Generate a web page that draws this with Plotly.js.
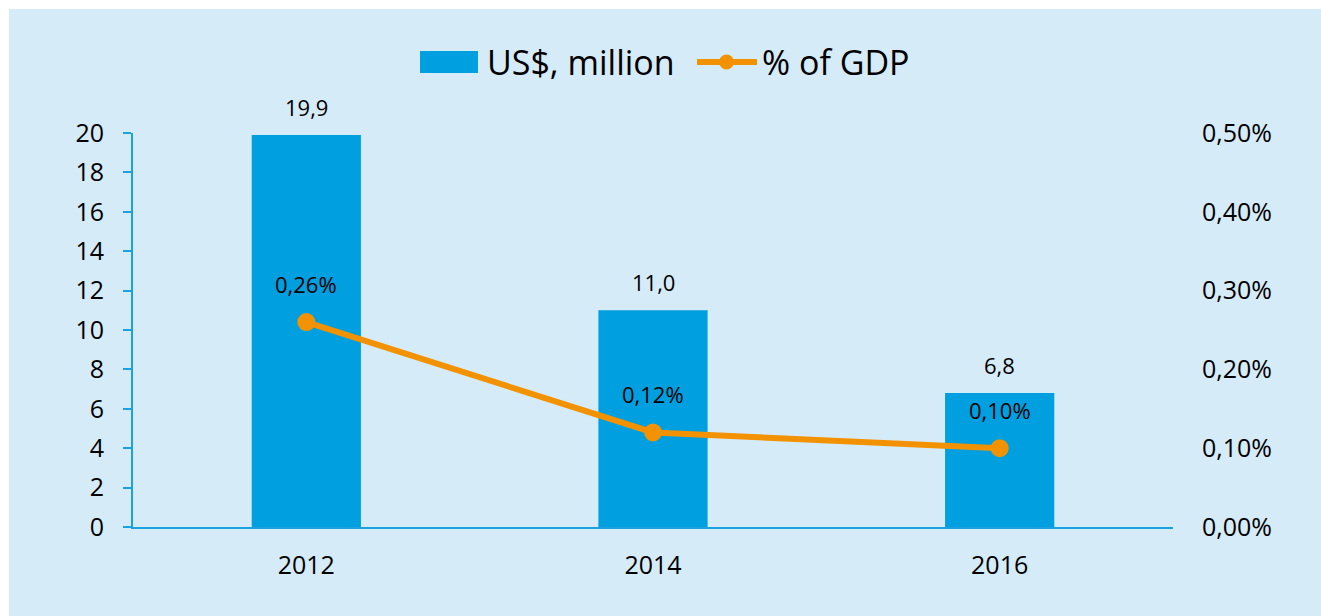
<!DOCTYPE html>
<html>
<head>
<meta charset="utf-8">
<script src="https://cdn.plot.ly/plotly-3.0.1.min.js"></script>
<style>
  html, body { margin: 0; padding: 0; background: #ffffff; }
  #chart { position: absolute; left: 9px; top: 9px; width: 1312px; height: 607px; }
</style>
</head>
<body>
<div id="chart"></div>
<script>
const years = ['2012', '2014', '2016'];
const usdMillion = [19.9, 11.0, 6.8];
const pctOfGdp = [0.0026, 0.0012, 0.0010];
const barName = 'US$, million';
const lineName = '% of GDP';
const leftTicks = [0, 2, 4, 6, 8, 10, 12, 14, 16, 18, 20];
const rightTicks = [0, 0.001, 0.002, 0.003, 0.004, 0.005];

const FONT = '"Open Sans", "Noto Sans", sans-serif';
const BG = '#D5EBF8';
const BAR = '#009FE0';
const LINE = '#F39200';
const AXIS = '#1BA1E2';

const W = 1312, H = 607;
const M = { l: 124, r: 148, t: 124, b: 89 };
// convert page pixel coords (div offset 9,9) to paper coords
const px = x => (x - 9 - M.l) / (W - M.l - M.r);
const py = y => (H - M.b - (y - 9)) / (H - M.t - M.b);

const fmt1 = v => v.toFixed(1).replace('.', ',');
const fmtPct = v => (v * 100).toFixed(2).replace('.', ',') + '%';

const traces = [
  {
    type: 'bar', name: barName, x: years, y: usdMillion,
    marker: { color: BAR }, hoverinfo: 'x+y'
  },
  {
    type: 'scatter', mode: 'lines+markers', name: lineName, x: years, y: pctOfGdp,
    yaxis: 'y2',
    line: { color: LINE, width: 6 },
    marker: { color: LINE, size: 18 }
  }
];

const annotations = [];
years.forEach((yr, i) => {
  annotations.push({
    x: i, y: usdMillion[i], xref: 'x', yref: 'y',
    text: fmt1(usdMillion[i]), showarrow: false, yshift: 28, yanchor: 'middle',
    font: { family: FONT, size: 22, color: '#000000' }
  });
  annotations.push({
    x: i, y: pctOfGdp[i], xref: 'x', yref: 'y2',
    text: fmtPct(pctOfGdp[i]), showarrow: false, yshift: 38, yanchor: 'middle',
    font: { family: FONT, size: 22, color: '#000000' }
  });
});
// custom legend texts
annotations.push({
  x: px(485), y: py(62), xref: 'paper', yref: 'paper', xanchor: 'left', yanchor: 'middle',
  text: barName, showarrow: false, font: { family: FONT, size: 34, color: '#000000' }
});
annotations.push({
  x: px(760), y: py(62), xref: 'paper', yref: 'paper', xanchor: 'left', yanchor: 'middle',
  text: lineName, showarrow: false, font: { family: FONT, size: 34, color: '#000000' }
});

const shapes = [
  { type: 'rect', xref: 'paper', yref: 'paper', x0: px(420), x1: px(478), y0: py(73), y1: py(51),
    fillcolor: BAR, line: { width: 0 } },
  { type: 'line', xref: 'paper', yref: 'paper', x0: px(697), x1: px(757), y0: py(62), y1: py(62),
    line: { color: LINE, width: 6 } },
  { type: 'circle', xref: 'paper', yref: 'paper', x0: px(719), x1: px(734), y0: py(69.5), y1: py(54.5),
    fillcolor: LINE, line: { width: 0 } }
];

const layout = {
  width: W, height: H,
  paper_bgcolor: BG, plot_bgcolor: BG,
  margin: M,
  font: { family: FONT, size: 25, color: '#000000' },
  separators: ',.',
  bargap: 0.685,
  showlegend: false,
  xaxis: {
    type: 'category', range: [-0.5, 2.5],
    showline: true, linecolor: AXIS, linewidth: 2,
    ticks: '', showgrid: false, zeroline: false,
    tickfont: { family: FONT, size: 25, color: '#000000' },
    ticklabelstandoff: 15
  },
  yaxis: {
    range: [0, 20], tickvals: leftTicks,
    showline: true, linecolor: AXIS, linewidth: 2,
    ticks: 'outside', ticklen: 8, tickcolor: AXIS, tickwidth: 2,
    showgrid: false, zeroline: false,
    tickfont: { family: FONT, size: 25, color: '#000000' },
    ticklabelstandoff: 14
  },
  yaxis2: {
    overlaying: 'y', side: 'right', range: [0, 0.005], tickvals: rightTicks,
    tickformat: '.2%', showline: false, ticks: '', showgrid: false, zeroline: false,
    tickfont: { family: FONT, size: 25, color: '#000000' },
    ticklabelstandoff: 28
  },
  shapes: shapes,
  annotations: annotations
};

Plotly.newPlot('chart', traces, layout, { displayModeBar: false, staticPlot: true });
</script>
</body>
</html>
